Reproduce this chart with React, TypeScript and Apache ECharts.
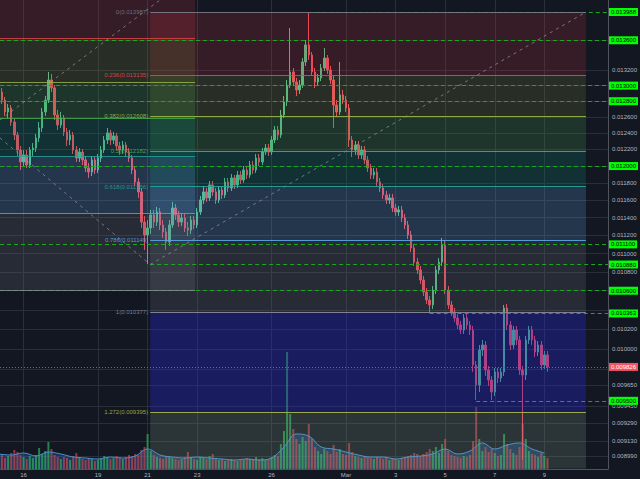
import React, { useEffect, useRef } from 'react';
import * as echarts from 'echarts';

// ---- time base (3h candles) ----
const candleStart = Date.UTC(2018, 1, 15, 0, 0);
const candleStepMs = 3 * 3600 * 1000;
const xMin = Date.UTC(2018, 1, 15, 1, 9);
const xMax = Date.UTC(2018, 2, 11, 13, 34);

// [open, close, low, high]
const candles: number[][] = [
  [0.012970, 0.012918, 0.012854, 0.013021], [0.012918, 0.012815, 0.012765, 0.012970], [0.012815, 0.012664, 0.012613, 0.012854], [0.012664, 0.012714, 0.012588, 0.012765],
  [0.012714, 0.012538, 0.012489, 0.012752], [0.012538, 0.012377, 0.012315, 0.012576], [0.012377, 0.012193, 0.012121, 0.012414], [0.012193, 0.012049, 0.011953, 0.012242],
  [0.012049, 0.012133, 0.012001, 0.012193], [0.012133, 0.012013, 0.011977, 0.012193], [0.012013, 0.012193, 0.011977, 0.012230], [0.012193, 0.012217, 0.012121, 0.012278],
  [0.012217, 0.012340, 0.012169, 0.012389], [0.012340, 0.012464, 0.012291, 0.012538], [0.012464, 0.012664, 0.012414, 0.012714], [0.012664, 0.012815, 0.012613, 0.012867],
  [0.012815, 0.013073, 0.012777, 0.013178], [0.013073, 0.012970, 0.012918, 0.013152], [0.012970, 0.012626, 0.012563, 0.013008], [0.012626, 0.012501, 0.012439, 0.012689],
  [0.012501, 0.012588, 0.012464, 0.012664], [0.012588, 0.012414, 0.012365, 0.012626], [0.012414, 0.012315, 0.012242, 0.012464], [0.012315, 0.012377, 0.012254, 0.012439],
  [0.012377, 0.012193, 0.012145, 0.012414], [0.012193, 0.012097, 0.012049, 0.012242], [0.012097, 0.012169, 0.012049, 0.012217], [0.012169, 0.012073, 0.012013, 0.012205],
  [0.012073, 0.011977, 0.011929, 0.012121], [0.011977, 0.011929, 0.011859, 0.012037], [0.011929, 0.012073, 0.011882, 0.012121], [0.012073, 0.011953, 0.011906, 0.012109],
  [0.011953, 0.012097, 0.011918, 0.012145], [0.012097, 0.012193, 0.012049, 0.012242], [0.012193, 0.012315, 0.012157, 0.012365], [0.012315, 0.012402, 0.012266, 0.012464],
  [0.012402, 0.012315, 0.012254, 0.012439], [0.012315, 0.012365, 0.012266, 0.012414], [0.012365, 0.012242, 0.012193, 0.012402], [0.012242, 0.012193, 0.012133, 0.012291],
  [0.012193, 0.012254, 0.012145, 0.012303], [0.012254, 0.012169, 0.012121, 0.012291], [0.012169, 0.012097, 0.012049, 0.012217], [0.012097, 0.011953, 0.011906, 0.012133],
  [0.011953, 0.011812, 0.011765, 0.012001], [0.011812, 0.011695, 0.011625, 0.011859], [0.011695, 0.011350, 0.011283, 0.011741], [0.011350, 0.011205, 0.011039, 0.011419],
  [0.011205, 0.011283, 0.010886, 0.011373], [0.011283, 0.011430, 0.011216, 0.011487], [0.011430, 0.011350, 0.011283, 0.011487], [0.011350, 0.011464, 0.011305, 0.011522],
  [0.011464, 0.011317, 0.011260, 0.011510], [0.011317, 0.011238, 0.011171, 0.011373], [0.011238, 0.011127, 0.011039, 0.011283], [0.011127, 0.011317, 0.011083, 0.011373],
  [0.011317, 0.011510, 0.011283, 0.011579], [0.011510, 0.011430, 0.011373, 0.011556], [0.011430, 0.011350, 0.011294, 0.011476], [0.011350, 0.011396, 0.011305, 0.011453],
  [0.011396, 0.011283, 0.011238, 0.011441], [0.011283, 0.011260, 0.011193, 0.011350], [0.011260, 0.011373, 0.011216, 0.011419], [0.011373, 0.011317, 0.011271, 0.011419],
  [0.011317, 0.011464, 0.011283, 0.011510], [0.011464, 0.011602, 0.011430, 0.011648], [0.011602, 0.011695, 0.011556, 0.011765], [0.011695, 0.011625, 0.011579, 0.011741],
  [0.011625, 0.011777, 0.011591, 0.011823], [0.011777, 0.011695, 0.011648, 0.011823], [0.011695, 0.011602, 0.011556, 0.011741], [0.011602, 0.011718, 0.011568, 0.011765],
  [0.011718, 0.011660, 0.011614, 0.011765], [0.011660, 0.011812, 0.011625, 0.011859], [0.011812, 0.011741, 0.011695, 0.011859], [0.011741, 0.011859, 0.011706, 0.011906],
  [0.011859, 0.011777, 0.011730, 0.011894], [0.011777, 0.011894, 0.011741, 0.011941], [0.011894, 0.011835, 0.011788, 0.011941], [0.011835, 0.011953, 0.011800, 0.012001],
  [0.011953, 0.011894, 0.011847, 0.012001], [0.011894, 0.012013, 0.011859, 0.012061], [0.012013, 0.011953, 0.011906, 0.012061], [0.011953, 0.012097, 0.011918, 0.012145],
  [0.012097, 0.012049, 0.012001, 0.012145], [0.012049, 0.012169, 0.012013, 0.012217], [0.012169, 0.012217, 0.012133, 0.012266], [0.012217, 0.012169, 0.012121, 0.012266],
  [0.012169, 0.012315, 0.012133, 0.012365], [0.012315, 0.012439, 0.012278, 0.012489], [0.012439, 0.012377, 0.012315, 0.012489], [0.012377, 0.012626, 0.012340, 0.012689],
  [0.012626, 0.012790, 0.012588, 0.012867], [0.012790, 0.013008, 0.012739, 0.013073], [0.013008, 0.013178, 0.012970, 0.013767], [0.013178, 0.013047, 0.012995, 0.013230],
  [0.013047, 0.012944, 0.012867, 0.013100], [0.012944, 0.013008, 0.012892, 0.013073], [0.013008, 0.013310, 0.012970, 0.013362], [0.013310, 0.013537, 0.013257, 0.013604],
  [0.013537, 0.013402, 0.013336, 0.013987], [0.013402, 0.013178, 0.013126, 0.013442], [0.013178, 0.013047, 0.012970, 0.013230], [0.013047, 0.013100, 0.012995, 0.013152],
  [0.013100, 0.013230, 0.013060, 0.013283], [0.013230, 0.013362, 0.013191, 0.013496], [0.013362, 0.013204, 0.013152, 0.013402], [0.013204, 0.013073, 0.013021, 0.013257],
  [0.013073, 0.012752, 0.012464, 0.013126], [0.012752, 0.012664, 0.012601, 0.012815], [0.012664, 0.012880, 0.012626, 0.013310], [0.012880, 0.012815, 0.012765, 0.012944],
  [0.012815, 0.012714, 0.012664, 0.012867], [0.012714, 0.012315, 0.012230, 0.012765], [0.012315, 0.012193, 0.012109, 0.012365], [0.012193, 0.012254, 0.012133, 0.012303],
  [0.012254, 0.012133, 0.012085, 0.012303], [0.012133, 0.012193, 0.012085, 0.012242], [0.012193, 0.012073, 0.012025, 0.012242], [0.012073, 0.011977, 0.011929, 0.012121],
  [0.011977, 0.011894, 0.011847, 0.012025], [0.011894, 0.011929, 0.011847, 0.011977], [0.011929, 0.011812, 0.011765, 0.011977], [0.011812, 0.011741, 0.011695, 0.011859],
  [0.011741, 0.011660, 0.011614, 0.011788], [0.011660, 0.011602, 0.011556, 0.011706], [0.011602, 0.011625, 0.011556, 0.011672], [0.011625, 0.011510, 0.011464, 0.011672],
  [0.011510, 0.011464, 0.011419, 0.011556], [0.011464, 0.011487, 0.011419, 0.011533], [0.011487, 0.011396, 0.011350, 0.011533], [0.011396, 0.011317, 0.011271, 0.011441],
  [0.011317, 0.011205, 0.011160, 0.011362], [0.011205, 0.011061, 0.011017, 0.011249], [0.011061, 0.010907, 0.010864, 0.011105], [0.010907, 0.010821, 0.010778, 0.010951],
  [0.010821, 0.010714, 0.010672, 0.010864], [0.010714, 0.010587, 0.010545, 0.010757], [0.010587, 0.010503, 0.010461, 0.010629], [0.010503, 0.010451, 0.010367, 0.010545],
  [0.010451, 0.010608, 0.010409, 0.010650], [0.010608, 0.010821, 0.010566, 0.010864], [0.010821, 0.010907, 0.010778, 0.010951], [0.010907, 0.011094, 0.010864, 0.011171],
  [0.011094, 0.010608, 0.010566, 0.011149], [0.010608, 0.010451, 0.010409, 0.010650], [0.010451, 0.010378, 0.010337, 0.010493], [0.010378, 0.010316, 0.010276, 0.010420],
  [0.010316, 0.010245, 0.010204, 0.010357], [0.010245, 0.010194, 0.010154, 0.010286], [0.010194, 0.010316, 0.010154, 0.010357], [0.010316, 0.010245, 0.010204, 0.010357],
  [0.010245, 0.010194, 0.010144, 0.010286], [0.010194, 0.009845, 0.009777, 0.010235], [0.009845, 0.009651, 0.009508, 0.009884], [0.009651, 0.009993, 0.009584, 0.010043],
  [0.009993, 0.010043, 0.009934, 0.010093], [0.010043, 0.009796, 0.009738, 0.010083], [0.009796, 0.009699, 0.009641, 0.009835], [0.009699, 0.009584, 0.009508, 0.009738],
  [0.009584, 0.009777, 0.009546, 0.009816], [0.009777, 0.009719, 0.009670, 0.009816], [0.009719, 0.009777, 0.009680, 0.009816], [0.009777, 0.010420, 0.009738, 0.010451],
  [0.010420, 0.010245, 0.010194, 0.010461], [0.010245, 0.010043, 0.009993, 0.010286], [0.010043, 0.010194, 0.010003, 0.010235], [0.010194, 0.010093, 0.010043, 0.010235],
  [0.010093, 0.009796, 0.009748, 0.010134], [0.009796, 0.009748, 0.008957, 0.009835], [0.009748, 0.010093, 0.009699, 0.010134], [0.010093, 0.010194, 0.010053, 0.010235],
  [0.010194, 0.010093, 0.010043, 0.010235], [0.010093, 0.009973, 0.009924, 0.010134], [0.009973, 0.010043, 0.009934, 0.010083], [0.010043, 0.009845, 0.009796, 0.010083],
  [0.009845, 0.009944, 0.009806, 0.009983], [0.009944, 0.009826, 0.009777, 0.009983],
];

// volume per candle (arbitrary units)
const volumes: number[] = [
  12, 15, 11, 13, 16, 19, 17, 14, 12, 10,
  13, 11, 14, 21, 15, 18, 27, 20, 14, 12,
  10, 12, 11, 9, 13, 16, 12, 10, 9, 11,
  10, 8, 9, 11, 13, 12, 10, 11, 13, 12,
  10, 12, 14, 13, 15, 14, 19, 22, 35, 18,
  14, 12, 11, 10, 13, 12, 11, 10, 9, 10,
  12, 17, 11, 10, 9, 12, 11, 10, 13, 15,
  11, 9, 10, 8, 9, 10, 9, 8, 10, 9,
  11, 10, 9, 12, 10, 11, 9, 10, 12, 14,
  13, 25, 38, 117, 55, 40, 30, 25, 32, 28,
  45, 30, 22, 18, 15, 20, 18, 15, 24, 17,
  20, 15, 14, 26, 17, 13, 12, 11, 13, 12,
  11, 10, 12, 11, 10, 12, 9, 11, 10, 9,
  11, 12, 13, 14, 16, 15, 13, 15, 17, 20,
  18, 22, 16, 25, 30, 18, 14, 13, 12, 11,
  13, 12, 14, 28, 62, 30, 18, 22, 17, 20,
  16, 13, 14, 35, 25, 20, 16, 14, 22, 45,
  30, 18, 15, 14, 12, 16, 13, 11,
];

// volume moving-average area, one value every 4 candles
const volumeMA: number[] = [
  15, 14, 16, 13, 17, 15, 12, 11, 10, 12, 11, 13, 20, 14, 12, 11, 12, 11, 10, 9, 10, 9, 11,
  22, 35, 33, 22, 20, 17, 14, 12, 12, 10, 12, 13, 15, 20, 15, 18, 26, 20, 24, 26, 20, 16,
];
const volumeMAStep = 4;
const volumeAxisMax = 469;

const xLabelTimes = [
  Date.UTC(2018, 1, 16), Date.UTC(2018, 1, 19), Date.UTC(2018, 1, 21), Date.UTC(2018, 1, 23),
  Date.UTC(2018, 1, 26), Date.UTC(2018, 2, 1), Date.UTC(2018, 2, 3), Date.UTC(2018, 2, 5),
  Date.UTC(2018, 2, 7), Date.UTC(2018, 2, 9),
];

const yMin = 0.008877;
const yMax = 0.014156;
const yLabelValues = [0.0132, 0.0126, 0.0124, 0.0122, 0.0118, 0.0116, 0.0114, 0.0112, 0.011, 0.0108,
  0.0102, 0.01, 0.00965, 0.00945, 0.00929, 0.00913, 0.00899];
const yGridValues = [0.0136, 0.0132, 0.013, 0.0128, 0.0126, 0.0124, 0.0122, 0.012, 0.0118, 0.0116, 0.0114,
  0.0112, 0.011, 0.0108, 0.0106, 0.0104, 0.0102, 0.01, 0.0098, 0.00965, 0.00945, 0.00929, 0.00913, 0.00899];

// Fibonacci retracement (main)
const fibMainStart = Date.UTC(2018, 1, 21, 2, 30);
const fibMainEnd = Date.UTC(2018, 2, 10, 16, 15);
const fibMainLabels = ['0', '0.236', '0.382', '0.5', '0.618', '0.786', '1', '1.272'];
const fibMainPrices = [0.013987, 0.013135, 0.012608, 0.012182, 0.011756, 0.011149, 0.010377, 0.009395];
const fibMainBottom = 0.008882; // 1.414
const fibLineColors = ['#787b86', '#e8434f', '#9ab84a', '#4caf50', '#26a69a', '#5aa6e8', '#8a8d96', '#a8b848'];
const fibZoneColors = [
  'rgba(242,54,69,0.16)', 'rgba(160,175,60,0.15)', 'rgba(76,175,80,0.2)', 'rgba(8,153,129,0.2)',
  'rgba(100,181,246,0.2)', 'rgba(120,123,134,0.2)', 'rgba(40,40,220,0.32)', 'rgba(140,170,140,0.2)',
];

// Fibonacci retracement (left, earlier)
const fibLeftEnd = Date.UTC(2018, 1, 22, 22, 0);
const fibLeftPrices = [0.014552, 0.013621, 0.013045, 0.01258, 0.012115, 0.011452, 0.010608];

// user horizontal lines: price, start time
const hLinePrices = [0.013988, 0.0136, 0.013, 0.0128, 0.012, 0.0111, 0.01088, 0.0106, 0.010363, 0.0095];
const hLineStarts = [
  candleStart + 100 * candleStepMs, xMin, xMin, xMin, xMin, xMin, fibMainStart, xMin,
  candleStart + 139 * candleStepMs, candleStart + 154 * candleStepMs,
];
const lastPrice = 0.009826;

// trend lines [[t0,p0],[t1,p1]]
const trendLines = [
  [[xMin, 0.012563], [Date.UTC(2018, 1, 21, 12, 0), 0.014156]],
  [[xMin, 0.01234], [fibMainStart, 0.01088]],
  [[fibMainStart, 0.01088], [fibMainEnd, 0.013987]],
];

const FONT = 'Liberation Sans, Arial, sans-serif';
const UP = '#53b987';
const DOWN = '#eb4d5c';

function buildOption() {
  const t = (i: number) => candleStart + i * candleStepMs;
  const candleData = candles.map((c, i) => [t(i), c[0], c[1], c[2], c[3]]);
  const volData = volumes.map((v, i) => ({
    value: [t(i), v],
    itemStyle: { color: candles[i][1] >= candles[i][0] ? 'rgba(50,175,90,0.7)' : 'rgba(210,70,80,0.65)' },
  }));
  const volMAData = volumeMA.map((v, k) => [t(k * volumeMAStep), v]);

  const zones: any[] = [];
  const mainEdges = [...fibMainPrices, fibMainBottom];
  for (let k = 0; k < fibZoneColors.length; k++) {
    zones.push([
      { xAxis: fibMainStart, yAxis: mainEdges[k], itemStyle: { color: fibZoneColors[k] } },
      { xAxis: fibMainEnd, yAxis: mainEdges[k + 1] },
    ]);
  }
  for (let k = 0; k < fibLeftPrices.length - 1; k++) {
    zones.push([
      { xAxis: xMin, yAxis: Math.min(fibLeftPrices[k], yMax), itemStyle: { color: fibZoneColors[k] } },
      { xAxis: fibLeftEnd, yAxis: fibLeftPrices[k + 1] },
    ]);
  }

  const fibLines: any[] = [];
  fibMainPrices.forEach((p, k) => {
    fibLines.push([
      {
        coord: [fibMainStart, p],
        lineStyle: { color: fibLineColors[k], width: 1, type: 'solid', opacity: 0.9 },
        label: {
          show: true, position: 'start', distance: 2,
          formatter: `${fibMainLabels[k]}(${p.toFixed(6)})`,
          color: fibLineColors[k], fontSize: 6, fontFamily: FONT,
        },
      },
      { coord: [fibMainEnd, p] },
    ]);
  });
  fibLeftPrices.slice(1).forEach((p, k) => {
    fibLines.push([
      { coord: [xMin, p], lineStyle: { color: fibLineColors[k + 1], width: 1, type: 'solid', opacity: 0.8 }, label: { show: false } },
      { coord: [fibLeftEnd, p] },
    ]);
  });

  const userLines: any[] = hLinePrices.map((p, k) => [
    {
      coord: [hLineStarts[k], p],
      lineStyle: { color: '#1ca81c', width: 1, type: [4, 3] },
      label: {
        show: true, position: 'end', distance: 1, formatter: p.toFixed(6),
        backgroundColor: '#00ff00', color: '#000000', fontSize: 6, fontFamily: FONT,
        padding: [1, 2, 1, 2],
      },
    },
    { coord: [xMax, p] },
  ]);
  userLines.push([
    {
      coord: [xMin, lastPrice],
      lineStyle: { color: '#f23645', width: 1, type: [1, 2] },
      label: {
        show: true, position: 'end', distance: 1, formatter: lastPrice.toFixed(6),
        backgroundColor: '#f7525f', color: '#ffffff', fontSize: 6, fontFamily: FONT,
        padding: [1, 2, 1, 2],
      },
    },
    { coord: [xMax, lastPrice] },
  ]);
  trendLines.forEach((tl) => {
    userLines.push([
      { coord: tl[0], lineStyle: { color: 'rgba(150,153,165,0.7)', width: 1, type: [3, 4] }, label: { show: false } },
      { coord: tl[1] },
    ]);
  });

  return {
    animation: false,
    backgroundColor: '#131722',
    grid: { left: 0, right: 32, top: 0, bottom: 10 },
    xAxis: {
      type: 'value', min: xMin, max: xMax, scale: true,
      axisLine: { show: true, onZero: false, lineStyle: { color: '#50535e' } },
      axisTick: { show: false, customValues: xLabelTimes },
      axisLabel: {
        customValues: xLabelTimes, color: '#b2b5be', fontSize: 6, fontFamily: FONT, margin: 3,
        formatter: (v: number) => {
          const d = new Date(v);
          return d.getUTCDate() === 1 ? 'Mar' : String(d.getUTCDate());
        },
      },
      splitLine: { show: true, lineStyle: { color: '#2a2e39', width: 1 } },
    },
    yAxis: [
      {
        type: 'log', position: 'right', min: yMin, max: yMax,
        axisLine: { show: true, lineStyle: { color: '#50535e' } },
        axisTick: { show: false, customValues: yGridValues },
        axisLabel: {
          customValues: yLabelValues, color: '#b2b5be', fontSize: 6, fontFamily: FONT, margin: 4,
          formatter: (v: number) => v.toFixed(6),
        },
        splitLine: { show: true, lineStyle: { color: '#2a2e39', width: 1 } },
      },
      { type: 'value', min: 0, max: volumeAxisMax, show: false, splitLine: { show: false } },
    ],
    series: [
      {
        type: 'bar', name: 'volume', yAxisIndex: 1, data: volData, barWidth: 2, z: 1, silent: true,
      },
      {
        type: 'line', name: 'volumeMA', yAxisIndex: 1, data: volMAData, smooth: 0.4, symbol: 'none', z: 1, silent: true,
        lineStyle: { color: '#4a8fd4', width: 1 },
        areaStyle: { color: 'rgba(44,110,190,0.5)' },
      },
      {
        type: 'candlestick', name: 'price', data: candleData, barWidth: 2, z: 2, silent: true,
        itemStyle: { color: UP, color0: DOWN, borderColor: UP, borderColor0: DOWN, borderWidth: 1 },
      },
      {
        type: 'line', name: 'fib', data: [], silent: true, z: 3,
        markArea: { silent: true, z: 3, data: zones },
        markLine: { silent: true, z: 6, symbol: ['none', 'none'], data: fibLines },
      },
      {
        type: 'line', name: 'lines', data: [], silent: true, z: 4,
        markLine: { silent: true, z: 5, symbol: ['none', 'none'], data: userLines },
      },
    ],
  };
}

export default function App() {
  const ref = useRef<HTMLDivElement>(null);
  useEffect(() => {
    document.body.style.margin = '0';
    const chart = echarts.init(ref.current as HTMLDivElement, undefined, { renderer: 'svg' });
    chart.setOption(buildOption() as any);
    return () => chart.dispose();
  }, []);
  return <div ref={ref} style={{ width: 640, height: 479 }} />;
}
